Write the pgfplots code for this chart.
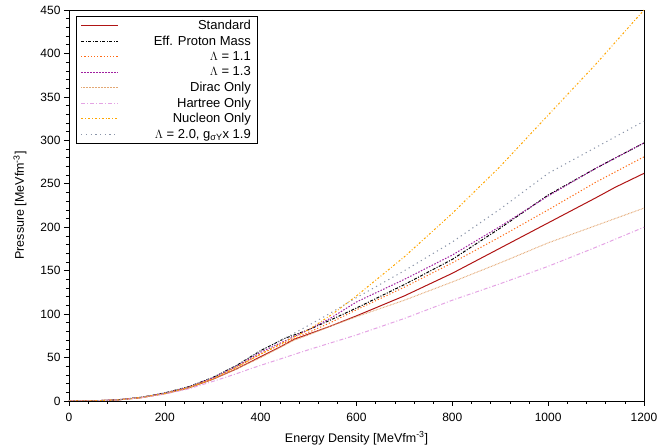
\documentclass[border=0pt]{standalone}
\usepackage{fontspec}
\setmainfont{Liberation Sans}
\usepackage{pgfplots}
\pgfplotsset{compat=1.18}
\definecolor{cstd}{HTML}{B01515}
\definecolor{cl11}{HTML}{FF6A13}
\definecolor{cl13}{HTML}{A020A0}
\definecolor{cdir}{HTML}{E3A874}
\definecolor{char}{HTML}{E4A4E4}
\definecolor{cnuc}{HTML}{FFA500}
\definecolor{cgry}{HTML}{8A94A8}
\begin{document}
\begin{tikzpicture}
\begin{axis}[
  scale only axis, width=575pt, height=391pt,
  xmin=0, xmax=1200, ymin=0, ymax=450,
  xtick distance=200, ytick distance=50,
  minor x tick num=4, minor y tick num=4,
  xtick pos=bottom, ytick pos=left,
  tick align=outside,
  major tick length=5pt, minor tick length=3pt,
  axis line style={line width=0.9pt},
  every tick/.style={black, line width=0.6pt},
  /pgf/number format/assume math mode=true,
  /pgf/number format/1000 sep={},
  tick label style={font=\fontsize{12}{14}\selectfont},
  xticklabel style={yshift=-4pt},
  label style={font=\fontsize{12.5}{14}\selectfont},
  xlabel={Energy Density [MeVfm\textsuperscript{-3}]},
  ylabel={Pressure [MeVfm\textsuperscript{-3}]},
  xlabel style={yshift=-3pt},
  ylabel style={yshift=7pt},
  legend cell align=right,
  legend image code/.code={\draw[#1] (0cm,0cm) -- (1.3cm,0cm);},
  legend style={at={(0.013,0.984)}, anchor=north west, draw=black, line width=0.6pt,
    font=\fontsize{13}{15}\selectfont, row sep=0.8pt, inner xsep=4pt, inner ysep=1.5pt,
    /tikz/every odd column/.append style={column sep=33pt}},
]
\coordinate (ll) at (rel axis cs:0,0);
\coordinate (ur) at (rel axis cs:1,1);
\addplot[cstd, line width=1pt] coordinates {(0,0) (50,0.2) (100,1.2) (150,3.8) (200,8.5) (250,15) (300,25) (350,37) (400,51) (440,62) (470,71) (500,77) (545,86) (600,98) (700,121) (800,147) (900,176) (1000,205) (1100,234) (1140,246) (1200,262)};
\addlegendentry{Standard}
\addplot[black, line width=1pt, dash pattern=on 3pt off 1.5pt on 1pt off 1.5pt] coordinates {(0,0) (50,0.2) (100,1.3) (150,4.2) (200,9.3) (250,16.5) (300,27) (350,41) (400,58) (450,72) (500,82) (545,93) (600,107) (700,134) (800,163) (900,199) (1000,237) (1100,268) (1200,297)};
\addlegendentry{Eff. Proton Mass}
\addplot[cl11, line width=1pt, dash pattern=on 1.2pt off 2pt] coordinates {(0,0) (50,0.2) (100,1.2) (150,3.9) (200,8.7) (250,15.5) (300,25.5) (350,39) (400,54) (450,67) (500,79) (545,90) (600,105) (700,131) (800,159) (900,189) (1000,220) (1100,252) (1200,281)};
\addlegendentry{$\Lambda$ = 1.1}
\addplot[cl13, line width=1pt, dash pattern=on 1.5pt off 1.5pt] coordinates {(0,0) (50,0.2) (100,1.3) (150,4) (200,9) (250,16) (300,26.5) (350,40) (400,56) (450,69) (500,82) (545,95) (600,114) (700,140) (800,168) (900,201) (1000,236) (1100,268) (1200,297)};
\addlegendentry{$\Lambda$ = 1.3}
\addplot[cdir, line width=1pt, dash pattern=on 0.7pt off 0.8pt] coordinates {(0,0) (50,0.2) (100,1.2) (150,3.8) (200,8.5) (250,15) (300,25) (350,37) (400,50) (470,70) (500,76) (545,86) (600,97) (700,116) (800,137) (900,159) (1000,182) (1100,202) (1200,222)};
\addlegendentry{Dirac Only}
\addplot[char, line width=1pt, dash pattern=on 4pt off 2pt on 1pt off 2pt] coordinates {(0,0) (50,0.2) (100,1.2) (150,3.7) (200,8) (250,14) (300,22.5) (350,31.5) (378,37) (400,41) (500,59) (600,76) (700,95) (800,116) (900,135) (1000,155) (1100,177) (1200,200)};
\addlegendentry{Hartree Only}
\addplot[cnuc, line width=1pt, dash pattern=on 2pt off 2pt on 0.8pt off 2pt] coordinates {(0,0) (50,0.2) (100,1.2) (150,3.9) (200,8.7) (250,15.5) (300,25.5) (350,39) (400,54) (450,68) (500,82) (550,100) (600,121) (700,166) (800,216) (900,270) (1000,329) (1100,388) (1200,450)};
\addlegendentry{Nucleon Only}
\addplot[cgry, line width=1pt, dash pattern=on 1.2pt off 3.5pt] coordinates {(0,0) (50,0.2) (100,1.3) (150,4.2) (200,9.3) (250,16.5) (300,27) (350,41) (400,58) (450,72) (500,87) (545,101) (600,119) (700,150) (800,183) (900,221) (1000,262) (1100,292) (1200,322)};
\addlegendentry{$\Lambda$ = 2.0, g\textsubscript{σY}x 1.9}
\end{axis}
\pgfresetboundingbox
\useasboundingbox ([xshift=-69pt,yshift=-47pt]ll) rectangle ([xshift=15pt,yshift=10pt]ur);
\end{tikzpicture}
\end{document}
